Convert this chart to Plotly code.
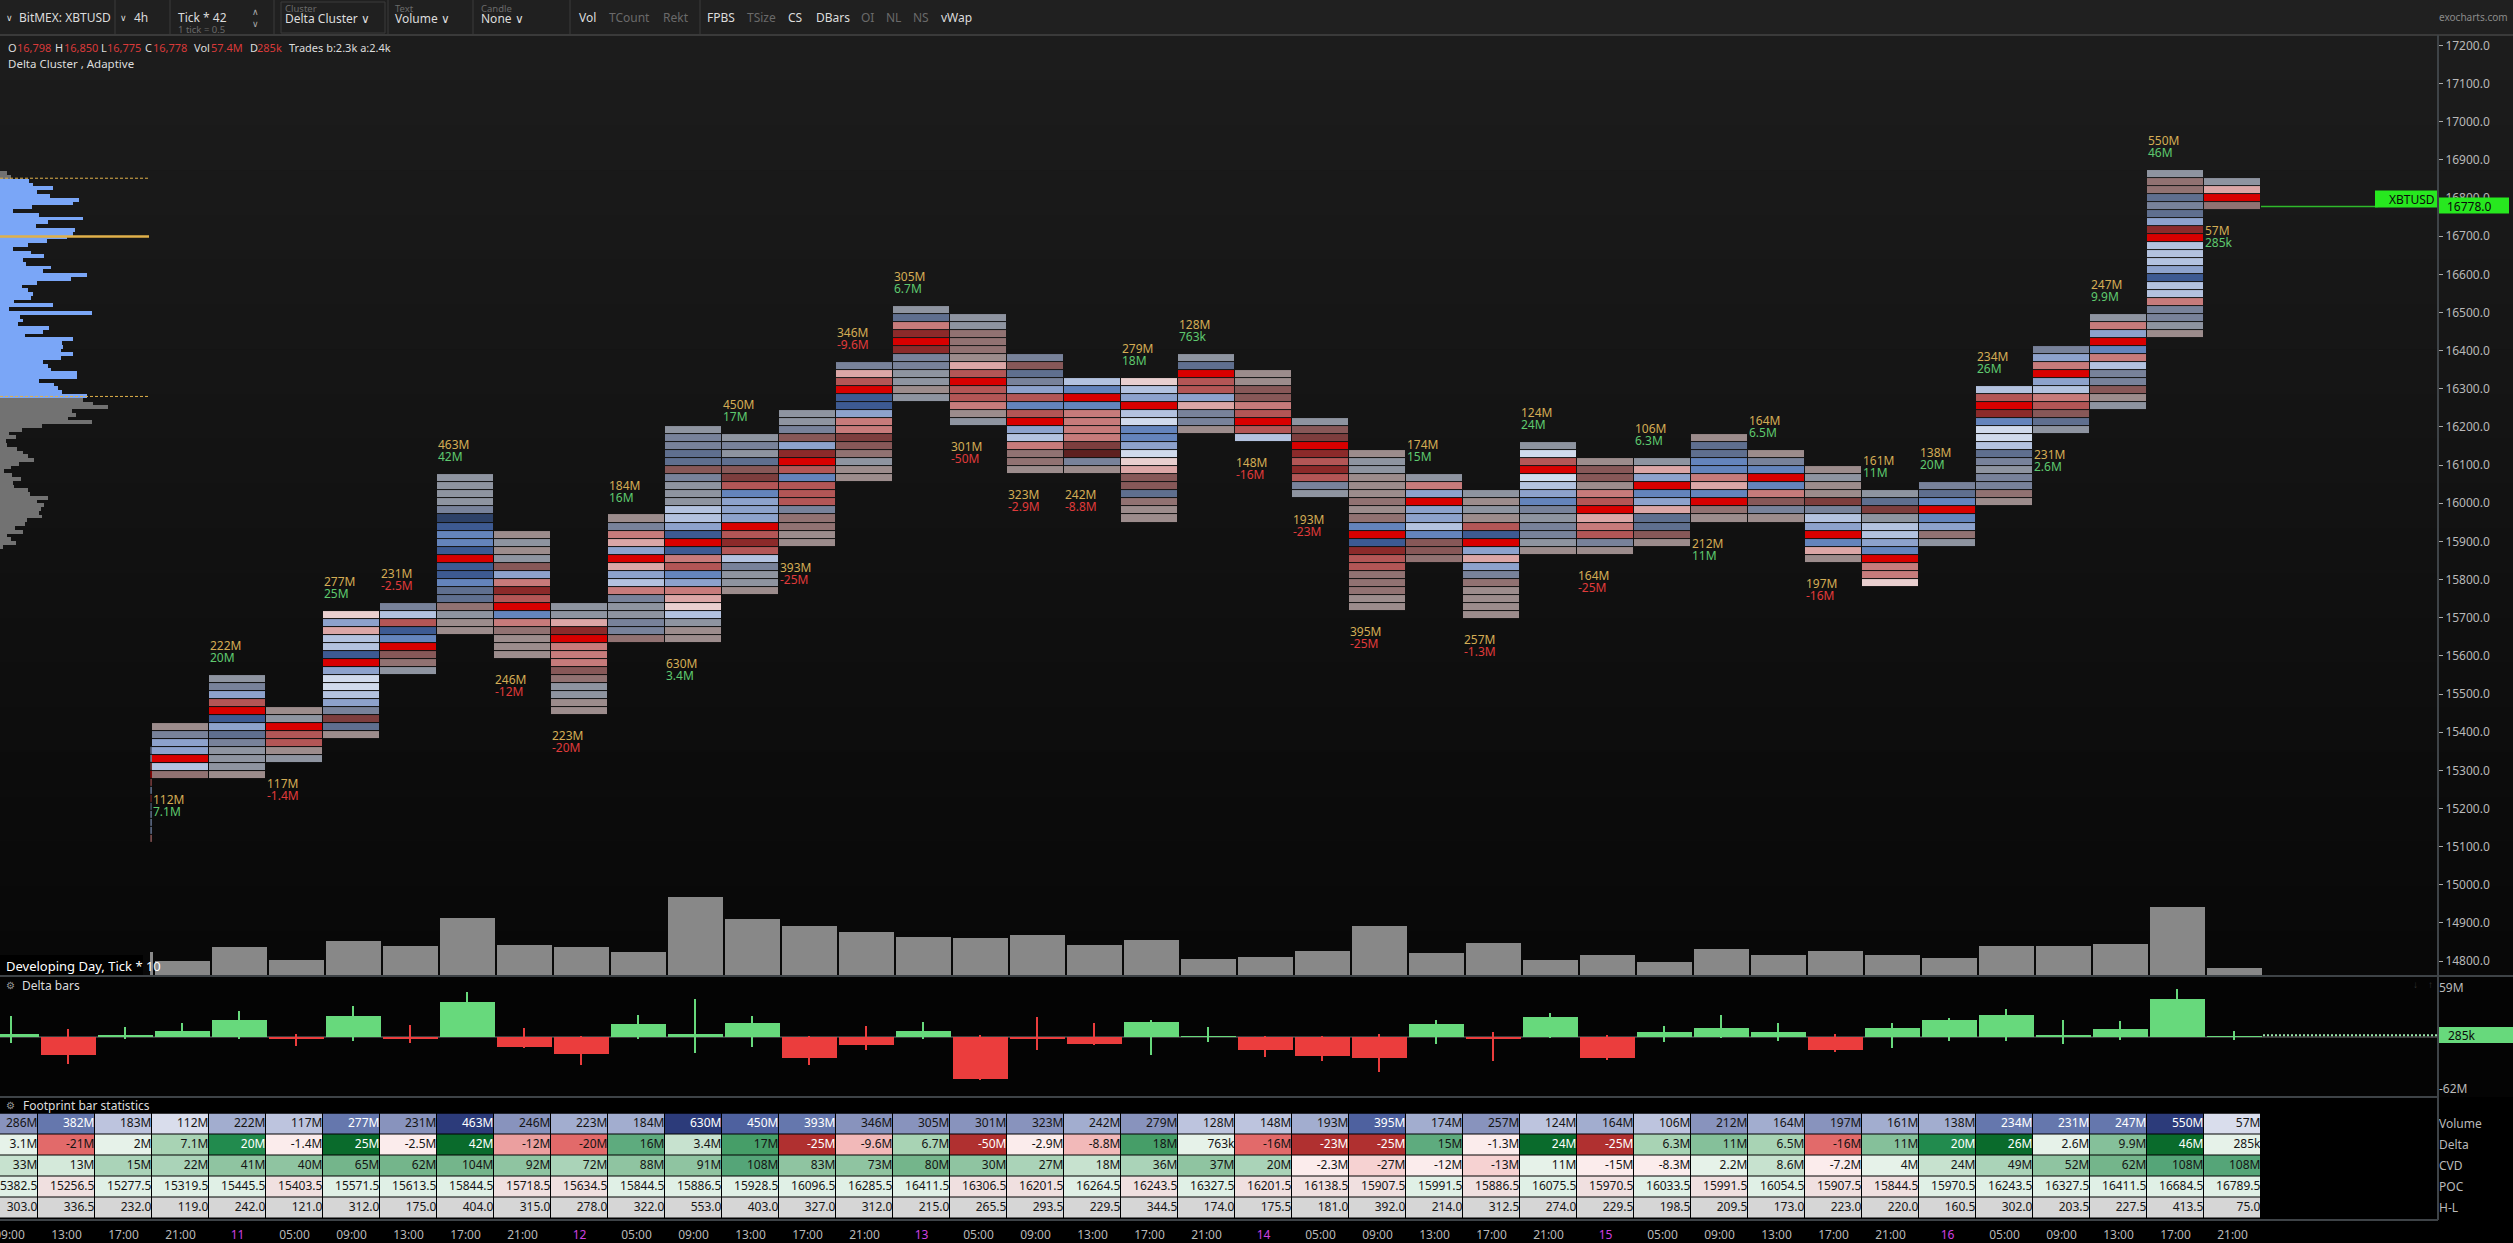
import numpy as np
import plotly.graph_objects as go

W, H = 2513, 1243
FONT = "Noto Sans"

# ---------- data ----------
COLS = list(range(-3, 37))
VOLUME = [286,382,183,112,222,117,277,231,463,246,223,184,630,450,393,346,305,301,323,242,279,128,148,193,395,174,257,124,164,106,212,164,197,161,138,234,231,247,550,57]
DELTA = [3.1,-21,2,7.1,20,-1.4,25,-2.5,42,-12,-20,16,3.4,17,-25,-9.6,6.7,-50,-2.9,-8.8,18,0.763,-16,-23,-25,15,-1.3,24,-25,6.3,11,6.5,-16,11,20,26,2.6,9.9,46,0.285]
DELTA_HIGH = [25,9.6,12,17,31,3.6,37,14,54,11,1,26,45.5,25,1,13,18,2.4,24,17,20,12,1,1,3.6,20,6,29,2.4,13,26,17,3.6,17,23,33.5,20,19,57.5,7]
DELTA_LOW = [-7,-32,-2.4,0,-2.4,-11,-4.8,-7,0,-13,-33.5,-2.4,-19,-12,-33.5,-15.6,-2.4,-51.5,-15.6,-9.6,-21.6,-6,-24,-29,-42,-8.4,-29,-1.2,-27.5,-6,-1.2,-4.8,-18,-13,-4.8,-4.8,-8.4,-3.6,0,-3.6]
VOLUME_TXT = ["286M","382M","183M","112M","222M","117M","277M","231M","463M","246M","223M","184M","630M","450M","393M","346M","305M","301M","323M","242M","279M","128M","148M","193M","395M","174M","257M","124M","164M","106M","212M","164M","197M","161M","138M","234M","231M","247M","550M","57M"]
DELTA_TXT = ["3.1M","-21M","2M","7.1M","20M","-1.4M","25M","-2.5M","42M","-12M","-20M","16M","3.4M","17M","-25M","-9.6M","6.7M","-50M","-2.9M","-8.8M","18M","763k","-16M","-23M","-25M","15M","-1.3M","24M","-25M","6.3M","11M","6.5M","-16M","11M","20M","26M","2.6M","9.9M","46M","285k"]
CVD_TXT = ["33M","13M","15M","22M","41M","40M","65M","62M","104M","92M","72M","88M","91M","108M","83M","73M","80M","30M","27M","18M","36M","37M","20M","-2.3M","-27M","-12M","-13M","11M","-15M","-8.3M","2.2M","8.6M","-7.2M","4M","24M","49M","52M","62M","108M","108M"]
POC = [15382.5,15256.5,15277.5,15319.5,15445.5,15403.5,15571.5,15613.5,15844.5,15718.5,15634.5,15844.5,15886.5,15928.5,16096.5,16285.5,16411.5,16306.5,16201.5,16264.5,16243.5,16327.5,16201.5,16138.5,15907.5,15991.5,15886.5,16075.5,15970.5,16033.5,15991.5,16054.5,15907.5,15844.5,15970.5,16243.5,16327.5,16411.5,16684.5,16789.5]
HL = [303.0,336.5,232.0,119.0,242.0,121.0,312.0,175.0,404.0,315.0,278.0,322.0,553.0,403.0,327.0,312.0,215.0,265.5,293.5,229.5,344.5,174.0,175.5,181.0,392.0,214.0,312.5,274.0,229.5,198.5,209.5,173.0,223.0,220.0,160.5,302.0,203.5,227.5,413.5,75.0]
VOLUME_SHADE = [3,4,1,0,2,1,4,3,6,3,2,2,6,5,4,3,3,3,3,2,3,1,1,2,5,2,3,1,2,1,3,2,3,2,2,4,4,4,6,0]
CVD_SHADE = [1,0,2,2,3,3,4,4,4,3,2,3,3,5,3,3,4,3,2,1,2,3,2,7,8,7,8,6,7,7,6,1,7,6,1,2,3,4,5,5]
TIME_LABELS = ["09:00","13:00","17:00","21:00","11","05:00","09:00","13:00","17:00","21:00","12","05:00","09:00","13:00","17:00","21:00","13","05:00","09:00","13:00","17:00","21:00","14","05:00","09:00","13:00","17:00","21:00","15","05:00","09:00","13:00","17:00","21:00","16","05:00","09:00","13:00","17:00","21:00"]
STAT_NAMES = ["Volume","Delta","CVD","POC","H-L"]

# footprint: lower price edge of each bar's lowest row, then row shades from top to bottom
ROW_TICK = 21
BAR_LOW = [15277.5,15277.5,15319.5,15382.5,15550.5,15655.5,15592.5,15445.5,15634.5,15634.5,15760.5,15886.5,16054.5,16264.5,16201.5,16075.5,16075.5,15949.5,16180.5,16159.5,16012.5,15718.5,15844.5,15697.5,15865.5,15865.5,15886.5,15949.5,15949.5,15844.5,15781.5,15886.5,15991.5,16180.5,16243.5,16432.5,16768.5]
BAR_ROWS = ["jbggrhk","abgnregcbaaaj","jarnnja","qgphhergiihgbscj","bhnefrlka","aaaabdeffereefcckajj","jajalgomnrfokjjj","aapmrooolkaajj","jbopgrpghobaabbk","abbcclbaaahhgereonfgopqhajj","abaclsnfgggrnmnhbaaj","aablgmrnfnnnbkkjj","bpnreegooslkajj","acomrmbbaaja","aakkkjpnrnnoja","blcbgnfnrghokkj","hfrfoooostbj","qhgrhiffgiqpllckjj","acrnngpbbj","jjllonrnh","alsrmnmnba","jaajjjkjkfremnnkkkjj","aogrgghfllk","ajajnergpgbkjjjj","ainrihgfbabbaj","jlljonrponbj","apgrfgpcclj","jccffopfrkj","jbfrfolbj","jajjsbhgrfpj","acsahhgfrooq","bcfrfgka","hnrmfiihcbabbkj","bgorghonlca","aogrfohbblja","akkcbcgmrhhhgehhobbaj","aprk"]
EDGE_LOW = 15109.5
EDGE_ROWS = "ghnrngmcgggo"
LABEL_ABOVE = [0,1,0,1,1,1,0,0,1,0,1,0,1,1,0,0,0,1,1,0,0,0,1,0,1,0,1,0,1,0,1,1,1,0,1,1,0]

PROFILE_VOLUME = [20,33,87,100,160,110,150,238,218,95,38,118,248,145,108,225,218,200,140,85,38,92,133,70,78,152,130,262,212,112,65,85,100,92,42,158,28,275,60,68,55,148,128,75,218,185,190,182,220,182,130,143,152,232,232,116,162,175,185,260,250,278,325,215,228,205,275,125,65,28,47,17,20,50,68,85,103,58,32,12,35,62,38,42,85,90,145,110,133,122,118,125,82,76,45,68,20,32,47,10]
PROFILE_TOP, PROFILE_BOTTOM = 16865, 15886
VAH, PROFILE_POC, VAL = 16852, 16699, 16280
LAST_PRICE = 16778
PRICE_TICKS = list(range(14800, 17201, 100))

# ---------- styles ----------
SHADES = dict(a="#8e94a0", b="#78829a", c="#5f6f8f", d="#2e4268", e="#3d5a92", f="#6484bc", g="#8da2cc", h="#b3c2df", i="#d0daec",
              j="#9c8c8c", k="#917272", l="#875858", m="#8c2a2a", n="#b35656", o="#c77b7b", p="#dba6a6", q="#e9cfcf", r="#d80000", s="#7d3e3e", t="#5e2020")
LETTERS = list(SHADES)
def steps(cols):
    n = len(cols)
    out = []
    for i, c in enumerate(cols):
        out += [[i / n, c], [(i + 1) / n, c]]
    return out

VOL_COLORS = ["#d9ddec","#bdc4de","#a2adcf","#8893bd","#6577ad","#4e619f","#2c3b7a"]
CVD_COLORS = ["#d4e9da","#c7e2cf","#aad3b8","#8fc4a1","#74b58b","#55a578","#e6f2e9","#fbecec","#f6d2d2"]
def delta_color(v):
    bins = [(24,"#0a6b2c"),(19,"#228b4e"),(17,"#469e68"),(15,"#5eab7e"),(9,"#85c09a"),(6,"#a8d3b4"),(3.3,"#c7e2cf"),(0,"#e6f2e9")]
    if v >= 0:
        return next(c for t, c in bins if v >= t)
    if v <= -23: return "#b03030"
    if v <= -16: return "#e26a6a"
    if v <= -11: return "#eb9f9f"
    if v <= -5: return "#f2b9b9"
    return "#fbecec"

# pixel layout
XR = 2438 / W
def py(p): return 1 - p / H
COL0_CENTER, COL_STEP = 180.5, 57.0
X_RANGE = [(0 - COL0_CENTER) / COL_STEP, (2438 - COL0_CENTER) / COL_STEP]
X_SHIFT = 2 / COL_STEP
X_RANGE2 = [X_RANGE[0] - X_SHIFT, X_RANGE[1] - X_SHIFT]
PX_PER_UNIT = 0.3815
def price_at(p): return 16400 - (p - 350.67) / PX_PER_UNIT

fig = go.Figure()

# footprint heatmap
low0 = min(BAR_LOW)
nrows = int(round((max(l + ROW_TICK * len(r) for l, r in zip(BAR_LOW, BAR_ROWS)) - low0) / ROW_TICK))
z = [[None] * len(BAR_LOW) for _ in range(nrows)]
for c, (low, rows) in enumerate(zip(BAR_LOW, BAR_ROWS)):
    base = int(round((low - low0) / ROW_TICK))
    for i, ch in enumerate(reversed(rows)):
        z[base + i][c] = LETTERS.index(ch)
row_y = [low0 + ROW_TICK * (i + 0.5) for i in range(nrows)]
cs = steps([SHADES[l] for l in LETTERS])
fig.add_trace(go.Heatmap(x=list(range(len(BAR_LOW))), y=row_y, z=z, xgap=1, ygap=1, colorscale=cs, zmin=-0.5, zmax=len(LETTERS) - 0.5,
                         showscale=False, hoverinfo="skip", xaxis="x", yaxis="y"))
# clipped column left of the first full bar
edge_z = [[LETTERS.index(ch)] for ch in reversed(EDGE_ROWS)]
edge_y = [EDGE_LOW + ROW_TICK * (i + 0.5) for i in range(len(EDGE_ROWS))]
fig.add_trace(go.Heatmap(x=[-0.525, -0.5], y=edge_y, z=edge_z, ygap=1, colorscale=cs, zmin=-0.5, zmax=len(LETTERS) - 0.5,
                         showscale=False, hoverinfo="skip", xaxis="x", yaxis="y"))

# labels above / below the bars
PX = 1 / PX_PER_UNIT
lx, ly1, ly2, lt1, lt2, lc2 = [], [], [], [], [], []
for c, (low, rows, above) in enumerate(zip(BAR_LOW, BAR_ROWS, LABEL_ABOVE)):
    top = low + ROW_TICK * len(rows)
    lx.append(c - 0.5 + 1 / COL_STEP)
    if above:
        ly1.append(top + 28 * PX); ly2.append(top + 16 * PX)
    else:
        ly1.append(low - 22 * PX); ly2.append(low - 34 * PX)
    lt1.append(VOLUME_TXT[c + 3]); lt2.append(DELTA_TXT[c + 3])
    lc2.append("#5fc96f" if DELTA[c + 3] >= 0 else "#e03b3b")
fig.add_trace(go.Scatter(x=lx, y=ly1, text=lt1, mode="text", textposition="middle right", textfont=dict(family=FONT, size=12, color="#d4ad55"),
                         hoverinfo="skip", xaxis="x", yaxis="y", cliponaxis=False))
fig.add_trace(go.Scatter(x=lx, y=ly2, text=lt2, mode="text", textposition="middle right", textfont=dict(family=FONT, size=12, color=lc2),
                         hoverinfo="skip", xaxis="x", yaxis="y", cliponaxis=False))
# last price line
fig.add_trace(go.Scatter(x=[36.5, 38.55], y=[LAST_PRICE, LAST_PRICE], mode="lines", line=dict(color="#2fb92b", width=1.5), hoverinfo="skip", xaxis="x", yaxis="y"))

# developing day profile
n = len(PROFILE_VOLUME)
pstep = (PROFILE_TOP - PROFILE_BOTTOM) / (n - 1)
p_y = [PROFILE_TOP - pstep * i for i in range(n)]
p_col = ["#7aa6f7" if VAL <= p < VAH else "#727272" for p in p_y]
fig.add_trace(go.Bar(x=PROFILE_VOLUME, y=p_y, orientation="h", width=pstep, marker=dict(color=p_col, line=dict(width=0)),
                     hoverinfo="skip", xaxis="x2", yaxis="y"))
GOLD = "#e0b04a"
fig.add_trace(go.Scatter(x=[0, 447], y=[PROFILE_POC] * 2, mode="lines", line=dict(color=GOLD, width=2.5), hoverinfo="skip", xaxis="x2", yaxis="y"))
for v in (VAH, VAL):
    fig.add_trace(go.Scatter(x=[0, 447], y=[v] * 2, mode="lines", line=dict(color=GOLD, width=1, dash="3px,2px"), hoverinfo="skip", xaxis="x2", yaxis="y"))

# volume bars
fig.add_trace(go.Bar(x=COLS[3:], y=VOLUME[3:], width=0.965, marker=dict(color="#888888", line=dict(width=0)), hoverinfo="skip", xaxis="x5", yaxis="y2"))
fig.add_trace(go.Bar(x=[-0.54], y=[VOLUME[2]], width=0.03, marker=dict(color="#888888", line=dict(width=0)), hoverinfo="skip", xaxis="x5", yaxis="y2"))

# delta bars
GREEN, RED = "#67d97c", "#eb3d3d"
dcols = [GREEN if v >= 0 else RED for v in DELTA]
fig.add_trace(go.Bar(x=COLS, y=[h - l for h, l in zip(DELTA_HIGH, DELTA_LOW)], base=DELTA_LOW, width=0.019,
                     marker=dict(color=dcols, line=dict(width=0)), hoverinfo="skip", xaxis="x3", yaxis="y3"))
fig.add_trace(go.Bar(x=COLS, y=DELTA, width=0.965, marker=dict(color=dcols, line=dict(width=0)), hoverinfo="skip", xaxis="x3", yaxis="y3"))
fig.add_trace(go.Scatter(x=[36.5, 39.7], y=[2, 2], mode="lines", line=dict(color="#9be8ac", width=2, dash="2px,2px"), hoverinfo="skip", xaxis="x3", yaxis="y3"))

# statistics table
stat_colors = []
def idx(c):
    if c not in stat_colors:
        stat_colors.append(c)
    return stat_colors.index(c)
poc_col = ["#e0f0e6" if i == 0 or POC[i] >= POC[i - 1] else "#f0e0e0" for i in range(len(POC))]
st_rows = [
    [VOL_COLORS[s] for s in VOLUME_SHADE],
    [delta_color(v) for v in DELTA],
    [CVD_COLORS[s] for s in CVD_SHADE],
    poc_col,
    ["#d6d6d6"] * len(COLS),
]
st_z = [[idx(c) for c in r] for r in st_rows]
fig.add_trace(go.Heatmap(x=COLS, y=[0, 1, 2, 3, 4], z=st_z, xgap=1, ygap=1, colorscale=steps(stat_colors), zmin=-0.5, zmax=len(stat_colors) - 0.5,
                         showscale=False, hoverinfo="skip", xaxis="x4", yaxis="y4"))
DARK = {"#6577ad", "#4e619f", "#2c3b7a", "#0a6b2c", "#228b4e", "#b03030"}
st_text = [VOLUME_TXT, DELTA_TXT, CVD_TXT, [f"{v:.1f}" for v in POC], [f"{v:.1f}" for v in HL]]
for r in range(5):
    fig.add_trace(go.Scatter(x=[c + 0.49 for c in COLS], y=[r] * len(COLS), text=st_text[r], mode="text", textposition="middle left",
                             textfont=dict(family=FONT, size=12, color=["#ffffff" if c in DARK else "#141414" for c in st_rows[r]]),
                             hoverinfo="skip", xaxis="x4", yaxis="y4"))

def is_day(s): return ":" not in s
tick_text = [f'<span style="color:#d040e0">{s}</span>' if is_day(s) else s for s in TIME_LABELS]

AX = dict(showgrid=False, zeroline=False, showline=False, fixedrange=True, automargin=False)
tickfont = dict(family=FONT, size=12, color="#b9b9b9")
PRICE_RANGE = [price_at(975), price_at(36)]
fig.update_layout(
    width=W, height=H, autosize=False, margin=dict(l=0, r=0, t=0, b=0), paper_bgcolor="#000000", plot_bgcolor="rgba(0,0,0,0)",
    showlegend=False, hovermode=False, barmode="overlay", bargap=0,
    xaxis=dict(AX, domain=[0, XR], range=X_RANGE, visible=False, anchor="y"),
    xaxis2=dict(AX, overlaying="x", range=[0, 2438 * 3], visible=False, anchor="y"),
    xaxis5=dict(AX, overlaying="x", range=X_RANGE2, visible=False, anchor="y2"),
    yaxis=dict(AX, domain=[py(975), py(36)], range=PRICE_RANGE, side="right", anchor="x", tickmode="array", tickvals=PRICE_TICKS,
               tickformat=".1f", ticks="outside", ticklen=4, tickwidth=1, tickcolor="#aaaaaa", tickfont=tickfont),
    yaxis2=dict(AX, overlaying="y", range=[0, (975 - 36) / 0.124], visible=False, anchor="x5"),
    xaxis3=dict(AX, domain=[0, XR], range=X_RANGE2, visible=False, anchor="y3"),
    yaxis3=dict(AX, domain=[py(1096), py(977)], range=[-(1096 - 1037) / 0.835, (1037 - 977) / 0.835], side="right", anchor="x3",
                tickmode="array", tickvals=[59, -62], ticktext=["59M", "-62M"], tickfont=tickfont, ticks="",
                ),
    xaxis4=dict(AX, domain=[0, XR], range=X_RANGE, anchor="y4", tickmode="array", tickvals=COLS, ticktext=tick_text,
                tickfont=tickfont, ticks="outside", ticklen=5, tickcolor="rgba(0,0,0,0)", ticklabeloverflow="allow", tickangle=0),
    yaxis4=dict(AX, domain=[py(1218.5), py(1113.5)], range=[4.5, -0.5], side="right", anchor="x4", tickmode="array",
                tickvals=[0, 1, 2, 3, 4], ticktext=STAT_NAMES, tickfont=tickfont, ticks=""),
)
fig.update_yaxes(zeroline=True, zerolinecolor="#3a3a3a", zerolinewidth=2, selector=dict(anchor="x3"))

# ---------- chrome ----------
shapes = []
def rect(x0, y0, x1, y1, fill, layer="below", line=None):
    shapes.append(dict(type="rect", xref="paper", yref="paper", x0=x0 / W, x1=x1 / W, y0=py(y1), y1=py(y0), fillcolor=fill, layer=layer,
                       line=dict(width=0) if line is None else dict(color=line, width=1)))
def seg(x0, y0, x1, y1, color="#3e4347", width=2, layer="above"):
    shapes.append(dict(type="line", xref="paper", yref="paper", x0=x0 / W, x1=x1 / W, y0=py(y1), y1=py(y0), line=dict(color=color, width=width), layer=layer))

# background gradient
levels = np.arange(0x1c, 0x07, -1)
edges = np.linspace(36, 976, len(levels) + 1)
for lv, a, b in zip(levels, edges[:-1], edges[1:]):
    g = f"#{int(lv):02x}{int(lv):02x}{int(lv):02x}"
    rect(0, a, W, b + 1, g)
rect(0, 0, W, 35, "#202020")
rect(0, 977, W, 1097, "#040404")
# masks and tags
rect(0, 955, 143, 975, "#000000", "above")
rect(2439, 1027, W, 1043, GREEN, "above")
seg(0, 35, W, 35, "#3a3a3a", 2)
seg(0, 976, W, 976, "#3e4347", 2)
seg(0, 1097, 2438, 1097, "#3e4347", 2)
seg(0, 1220, 2438, 1220, "#3e4347", 2)
seg(2438, 35, 2438, 1220, "#3e4347", 2)
for x in (115, 170, 274, 388, 473, 570, 700):
    seg(x, 0, x, 34, "#3a3a3a", 1)
rect(281, 2, 385, 33, "rgba(0,0,0,0)", "above", "#3a3a3a")
# last price tags anchored to the price scale
shapes.append(dict(type="rect", xref="paper", yref="y", x0=2375 / W, x1=2437 / W, ysizemode="pixel", yanchor=LAST_PRICE, y0=-1, y1=16,
                   fillcolor="#27e81f", line=dict(width=0), layer="above"))
shapes.append(dict(type="rect", xref="paper", yref="y", x0=2439 / W, x1=2509 / W, ysizemode="pixel", yanchor=LAST_PRICE, y0=-7, y1=9,
                   fillcolor="#27e81f", line=dict(width=0), layer="above"))
fig.update_layout(shapes=shapes)

notes = []
def T(x, y, s, color="#d8d8d8", size=12, anchor="left"):
    notes.append(dict(xref="paper", yref="paper", x=x / W, y=py(y), text=s, showarrow=False, xanchor=anchor, yanchor="middle",
                      font=dict(family=FONT, size=size, color=color), borderpad=0, borderwidth=0))
DIM, WHITE = "#6a6a6a", "#dcdcdc"
T(6, 17, "∨", WHITE, 9); T(19, 17, "BitMEX: XBTUSD", WHITE)
T(120, 17, "∨", WHITE, 9); T(134, 17, "4h", WHITE)
T(178, 17, "Tick * 42", WHITE); T(178, 29, "1 tick = 0.5", DIM, 9.5)
T(255, 11, "∧", "#aaaaaa", 9, "center"); T(255, 23, "∨", "#aaaaaa", 9, "center")
T(285, 8, "Cluster", DIM, 9.5); T(285, 18, "Delta Cluster ∨", WHITE)
T(395, 8, "Text", DIM, 9.5); T(395, 18, "Volume ∨", WHITE)
T(481, 8, "Candle", DIM, 9.5); T(481, 18, "None ∨", WHITE)
for x, s, c in [(579, "Vol", WHITE), (609, "TCount", DIM), (663, "Rekt", DIM), (707, "FPBS", WHITE), (747, "TSize", DIM), (788, "CS", WHITE),
                (816, "DBars", WHITE), (861, "OI", DIM), (886, "NL", DIM), (913, "NS", DIM), (941, "vWap", WHITE)]:
    T(x, 17, s, c)
T(2508, 17, "exocharts.com", "#8a8a8a", 10, "right")
RED_T = "#d93a3a"
for x, s, c in [(8, "O", WHITE), (17, "16,798", RED_T), (55, "H", WHITE), (64, "16,850", RED_T), (101, "L", WHITE), (107, "16,775", RED_T),
                (145, "C", WHITE), (153, "16,778", RED_T), (194, "Vol", WHITE), (211, "57.4M", RED_T), (250, "D", WHITE), (257, "285k", RED_T),
                (289, "Trades b:2.3k a:2.4k", WHITE)]:
    T(x, 48, s, c, 11)
T(8, 64, "Delta Cluster , Adaptive", WHITE, 11.5)
T(6, 966, "Developing Day, Tick * 10", "#ffffff", 13)
T(10, 985, "⚙", "#9a9a9a", 10, "center"); T(22, 985, "Delta bars", WHITE)
T(10, 1105, "⚙", "#9a9a9a", 10, "center"); T(23, 1105, "Footprint bar statistics", WHITE)
T(2415, 984, "↓", "#333333", 10, "center"); T(2430, 984, "↑", "#333333", 10, "center")
T(2412, 199.5, "XBTUSD", "#0a0a0a", 12, "center")
T(2447, 206, "16778.0", "#0a0a0a", 12)
T(2448, 1035, "285k", "#0a0a0a", 12)
fig.update_layout(annotations=notes)

fig.write_html("out.html", config=dict(displayModeBar=False),
               post_script="document.documentElement.style.margin='0';document.body.style.margin='0';document.body.style.background='#000';document.body.style.overflow='hidden';")
